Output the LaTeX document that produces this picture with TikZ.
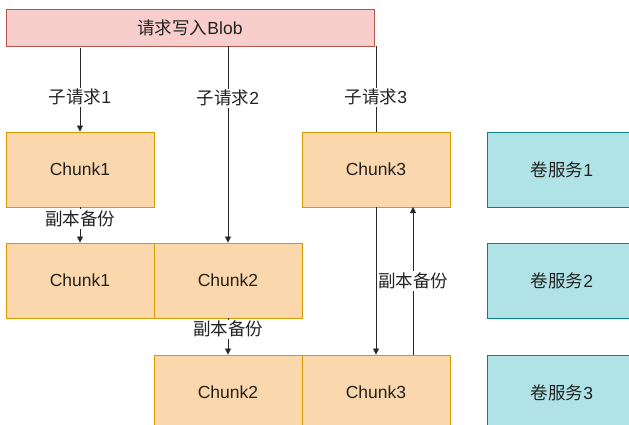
\documentclass[tikz,border=0pt]{standalone}
\usepackage{fontspec}
\setmainfont{Liberation Sans}
\newfontfamily\cjk{Noto Sans CJK SC}
\usetikzlibrary{arrows.meta}
\definecolor{orfill}{HTML}{FAD7AC}
\definecolor{ordraw}{HTML}{D79B00}
\definecolor{pkfill}{HTML}{F8CECC}
\definecolor{pkdraw}{HTML}{B85450}
\definecolor{tlfill}{HTML}{B0E3E6}
\definecolor{tldraw}{HTML}{0E8088}
\definecolor{txt}{HTML}{222222}
\tikzset{
  box/.style={draw, line width=0.9pt, minimum height=75pt, inner sep=0pt, text=txt, font=\fontsize{17.5}{20}\selectfont},
  chunkbox/.style={box, fill=orfill, draw=ordraw, minimum width=148pt},
  volbox/.style={box, fill=tlfill, draw=tldraw, minimum width=150pt},
  reqbox/.style={box, fill=pkfill, draw=pkdraw, minimum width=368pt, minimum height=37pt},
  conn/.style={draw=black!85, line width=0.8pt},
  arr/.style={conn, -{Triangle[length=6pt,width=6pt]}},
  lbl/.style={fill=white, inner sep=1.5pt, text=txt, font=\fontsize{17.5}{20}\selectfont}
}
\begin{document}
\begin{tikzpicture}[x=1pt,y=-1pt]
\useasboundingbox (0,0) rectangle (629,424);
\clip (0,0) rectangle (629,424);
\fill[white] (0,0) rectangle (629,424);
% top request
\node[reqbox] (req) at (190,27.5) {{\cjk 请求写入}Blob};
% row 1
\node[chunkbox] (c1a) at (80,169.5) {Chunk1};
\node[chunkbox] (c3a) at (376,169.5) {Chunk3};
\node[volbox] (v1) at (562,169.5) {{\cjk 卷服务}1};
% row 2
\node[chunkbox] (c1b) at (80,280.5) {Chunk1};
\node[chunkbox] (c2b) at (228,280.5) {Chunk2};
\node[volbox] (v2) at (562,280.5) {{\cjk 卷服务}2};
% row 3
\node[chunkbox] (c2c) at (228,392.5) {Chunk2};
\node[chunkbox] (c3c) at (376,392.5) {Chunk3};
\node[volbox] (v3) at (562,392.5) {{\cjk 卷服务}3};
% sub requests
\coordinate (r1) at (80,48);
\coordinate (r2) at (228,46);
\coordinate (r3) at (376,46);
\draw[arr] (r1) -- node[lbl, pos=0.59] {{\cjk 子请求}1} (c1a.north);
\draw[arr] (r2) -- node[lbl, pos=0.265] {{\cjk 子请求}2} (c2b.north);
\draw[conn] (r3) -- node[lbl, pos=0.6] {{\cjk 子请求}3} (c3a.north);
% replicas
\draw[arr] (c1a.south) -- node[lbl, pos=0.33] {\cjk 副本备份} (c1b.north);
\draw[arr] (c2b.south) -- node[lbl, pos=0.3] {\cjk 副本备份} (c2c.north);
\draw[arr] (c3a.south) -- (c3c.north);
\coordinate (u1) at (413,355);
\coordinate (u2) at (413,207);
\draw[arr] (u1) -- node[lbl, pos=0.5] {\cjk 副本备份} (u2);
\end{tikzpicture}
\end{document}
